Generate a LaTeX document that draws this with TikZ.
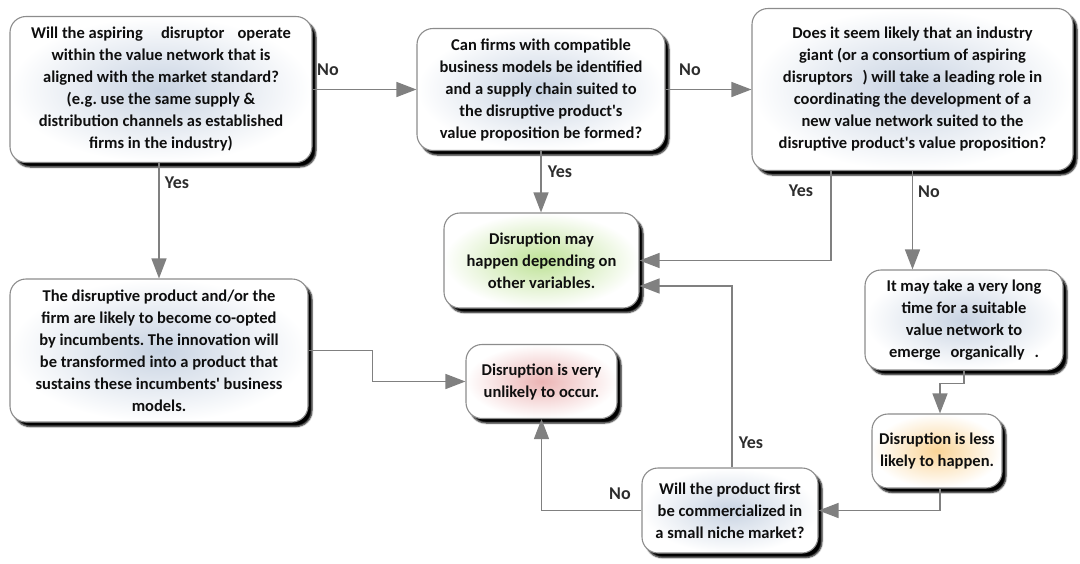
\documentclass[tikz,border=0pt]{standalone}
\usepackage{fontspec}
\setmainfont{Carlito}
\usetikzlibrary{arrows.meta,shadows.blur,calc}
\definecolor{linegray}{RGB}{128,128,128}
\definecolor{boxedge}{RGB}{140,140,140}
\definecolor{txt}{RGB}{15,15,15}
\definecolor{lbltxt}{RGB}{45,45,45}
\definecolor{bluefill}{RGB}{200,211,226}
\definecolor{greenfill}{RGB}{190,226,150}
\definecolor{redfill}{RGB}{236,180,180}
\definecolor{orangefill}{RGB}{250,212,150}
\newcommand{\apos}{\textquotesingle}
\frenchspacing
\begin{document}
\begin{tikzpicture}[x=1pt,y=-1pt,
  box/.style={rounded corners=16pt, draw=boxedge, line width=1.1pt,
    outer color=white, inner color=bluefill,
    blur shadow={shadow xshift=4pt, shadow yshift=-4.5pt,
      shadow blur steps=5, shadow blur radius=1.6pt, shadow opacity=100},
    font=\fontsize{16.5}{22}\selectfont\bfseries, align=center,
    inner sep=0pt, text=txt},
  conn/.style={draw=linegray, line width=1.4pt,
    -{Triangle[length=20pt,width=15pt]}},
  lbl/.style={font=\fontsize{18}{20}\selectfont\bfseries, text=lbltxt}]
\useasboundingbox (0,0) rectangle (1080,563);

% decision and outcome boxes
\node[box, minimum width=302pt, minimum height=146pt] (A) at (161,89.5)
  {Will the aspiring\hspace{1.1em}disruptor\hspace{0.8em}operate\\
   within the value network that is\\
   aligned with the market standard?\\
   (e.g. use the same supply \&\\
   distribution channels as established\\
   firms in the industry)};
\node[box, minimum width=248pt, minimum height=122pt] (B) at (541,89.5)
  {Can firms with compatible\\
   business models be identified\\
   and a supply chain suited to\\
   the disruptive product\apos s\\
   value proposition be formed?};
\node[box, minimum width=321pt, minimum height=162pt] (C) at (912.5,89.5)
  {Does it seem likely that an industry\\
   giant (or a consortium of aspiring\\
   disruptors\hspace{0.6em}) will take a leading role in\\
   coordinating the development of a\\
   new value network suited to the\\
   disruptive product\apos s value proposition?};
\node[box, inner color=greenfill, minimum width=195pt, minimum height=95pt] (D) at (541.5,260.5)
  {Disruption may\\
   happen depending on\\
   other variables.};
\node[box, minimum width=298pt, minimum height=143pt] (E) at (159,350.5)
  {The disruptive product and/or the\\
   firm are likely to become co-opted\\
   by incumbents. The innovation will\\
   be transformed into a product that\\
   sustains these incumbents\apos{} business\\
   models.};
\node[box, inner color=redfill, minimum width=151pt, minimum height=74pt] (F) at (541.5,381.5)
  {Disruption is very\\
   unlikely to occur.};
\node[box, minimum width=198pt, minimum height=100pt] (G) at (964,320)
  {It may take a very long\\
   time for a suitable\\
   value network to\\
   emerge\hspace{0.6em}organically\hspace{0.6em}.};
\node[box, inner color=orangefill, minimum width=130pt, minimum height=74pt] (H) at (937,451)
  {Disruption is less\\
   likely to happen.};
\node[box, minimum width=176pt, minimum height=85pt] (I) at (730,510.5)
  {Will the product first\\
   be commercialized in\\
   a small niche market?};

% connectors
\draw[conn] (A.east) -- (B.west);
\draw[conn] (B.east) -- (C.west);
\draw[conn] (B.south) -- (B.south |- D.north);
\draw[conn] (E.north |- A.south) -- (E.north);
\draw[conn] ($(C.south)+(-81.5,0)$) |- (D.east);
\draw[conn] (C.south) -- (C.south |- G.north);
\coordinate (gh) at ($(G.south)+(0,13)$);
\draw[conn] (G.south) -- (gh) -| ($(H.north)+(3,0)$);
\draw[conn] ($(H.south)+(3,0)$) |- (I.east);
\draw[conn] ($(I.north)+(2,0)$) |- ($(D.east)+(0,25.5)$);
\draw[conn] (I.west) -| (F.south);
\draw[conn] (E.east) -- ++(64,0) |- (F.west);

% branch labels
\node[lbl] (nAB) at (328,70) {No};
\node[lbl] (nBC) at (690,70) {No};
\node[lbl] (yBD) at (560,172) {Yes};
\node[lbl] (yAE) at (177,183) {Yes};
\node[lbl] (yCD) at (801,191) {Yes};
\node[lbl] (nCG) at (929,192) {No};
\node[lbl] (yID) at (751,443) {Yes};
\node[lbl] (nIF) at (620,494) {No};
\end{tikzpicture}
\end{document}
